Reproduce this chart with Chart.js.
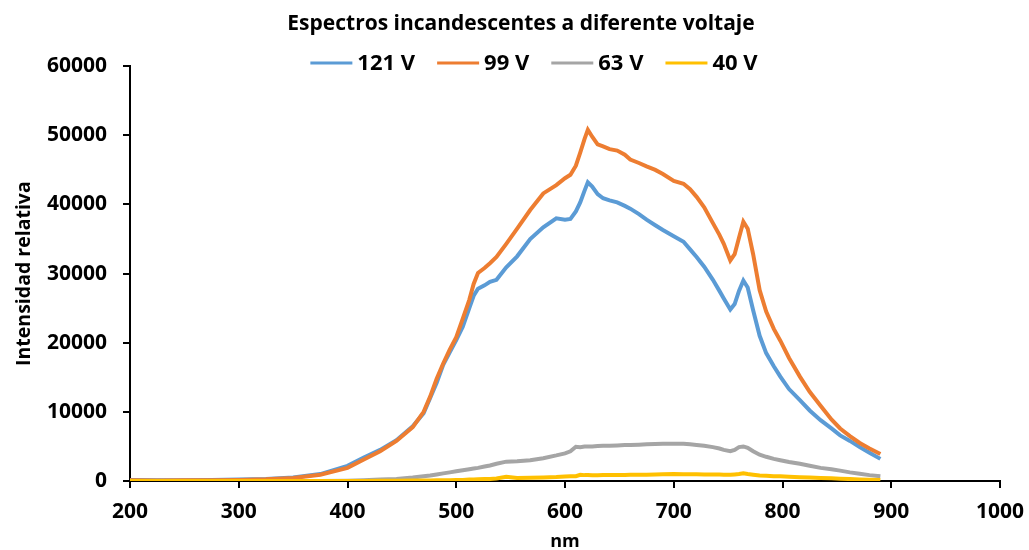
<!DOCTYPE html>
<html lang="es">
<head>
    <meta charset="UTF-8">
    <title>Espectros incandescentes a diferente voltaje</title>
    <script src="https://cdn.jsdelivr.net/npm/chart.js"></script>
    <style>
        html, body { margin: 0; padding: 0; background: #fff; }
        #wrap { width: 1029px; height: 550px; position: relative; }
    </style>
</head>
<body>
    <div id="wrap"><canvas id="chart"></canvas></div>

    <script>
        // Wavelengths (nm) shared by all series
        const wavelengths = [
            200, 225, 250, 275, 300, 325, 350, 375, 400, 415, 430, 445, 460, 470, 476, 482, 488, 494,
            500, 506, 512, 516, 520, 526, 531, 537, 546, 556, 568, 580, 592, 600, 605, 610, 614, 618,
            621, 625, 630, 635, 641, 648, 655, 660, 668, 675, 683, 690, 700, 709, 715, 721, 728, 736,
            742, 746, 752, 756, 760, 764, 768, 773, 779, 785, 792, 798, 806, 816, 825, 835, 845, 853,
            862, 871, 880, 890
        ];

        const seriesNames = ['121 V', '99 V', '63 V', '40 V'];
        const seriesColors = ['#5B9BD5', '#ED7D31', '#A5A5A5', '#FFC000'];

        const v121 = [
            150, 100, 120, 150, 200, 300, 500, 1000, 2200, 3400, 4500, 5900, 7900, 9800, 12000, 14200, 16800, 18600,
            20400, 22300, 25000, 26800, 27800, 28300, 28800, 29100, 30900, 32500, 35000, 36700, 38000, 37800, 37900, 39000, 40300, 42000,
            43200, 42600, 41500, 40900, 40600, 40300, 39800, 39400, 38600, 37800, 37000, 36300, 35400, 34600, 33500, 32400, 31000, 29100,
            27500, 26400, 24800, 25600, 27500, 29000, 28000, 24700, 21000, 18500, 16600, 15100, 13300, 11700, 10200, 8800, 7600, 6600,
            5800, 4900, 4100, 3200
        ];

        const v99 = [
            100, 80, 100, 120, 150, 250, 450, 900, 1900, 3100, 4300, 5800, 7800, 10000, 12200, 14800, 17000, 19000,
            20800, 23500, 26200, 28500, 30100, 30800, 31500, 32400, 34300, 36500, 39200, 41600, 42800, 43800, 44300, 45600, 47500, 49500,
            50800, 49800, 48700, 48400, 48000, 47800, 47200, 46500, 46000, 45500, 45000, 44400, 43400, 43000, 42200, 41100, 39600, 37300,
            35600, 34300, 31900, 32800, 35200, 37500, 36500, 32800, 27600, 24500, 22000, 20300, 17800, 15100, 12900, 10900, 8900, 7600,
            6500, 5500, 4700, 3900
        ];

        const v63 = [
            0, 0, 0, 0, 0, 0, 0, 0, 50, 100, 200, 300, 500, 700, 800, 950, 1100, 1250,
            1400, 1550, 1700, 1800, 1900, 2100, 2250, 2500, 2800, 2850, 3000, 3300, 3700, 4000, 4300, 4950, 4900, 5000,
            5000, 5000, 5050, 5100, 5100, 5150, 5200, 5200, 5250, 5300, 5350, 5400, 5400, 5400, 5300, 5200, 5100, 4900,
            4700, 4500, 4300, 4500, 4900, 5000, 4800, 4300, 3800, 3500, 3200, 3000, 2750, 2500, 2200, 1900, 1700, 1500,
            1250, 1050, 850, 700
        ];

        const v40 = [
            0, 0, 0, 0, 0, 0, 0, 0, 0, 0, 20, 40, 60, 80, 90, 100, 110, 120,
            140, 160, 200, 220, 250, 280, 300, 350, 600, 450, 480, 520, 580, 650, 680, 700, 900, 850,
            850, 820, 830, 850, 860, 870, 880, 890, 900, 920, 940, 960, 1000, 980, 970, 960, 950, 940,
            930, 920, 900, 950, 1000, 1100, 1000, 900, 800, 750, 700, 680, 620, 560, 500, 430, 380, 330,
            280, 230, 180, 150
        ];

        const seriesValues = [v121, v99, v63, v40];

        const xTicks = { min: 200, max: 1000, step: 100 };
        const yTicks = { min: 0, max: 60000, step: 10000 };

        const FONT = '"Open Sans", sans-serif';

        // Excel-style legend sitting just above the plot area
        const topLegend = {
            id: 'topLegend',
            afterDraw(chart) {
                const ctx = chart.ctx;
                const lineLen = 42, gapText = 5, gapItem = 22;
                ctx.save();
                ctx.font = 'bold 22px ' + FONT;
                const items = chart.data.datasets.map(ds => ({
                    label: ds.label,
                    color: ds.borderColor,
                    w: ctx.measureText(ds.label).width
                }));
                const total = items.reduce((s, it) => s + lineLen + gapText + it.w, 0) + gapItem * (items.length - 1);
                let x = 534 - total / 2;
                const y = 63;
                ctx.textBaseline = 'middle';
                ctx.fillStyle = '#000';
                items.forEach(it => {
                    ctx.strokeStyle = it.color;
                    ctx.lineWidth = 3;
                    ctx.beginPath();
                    ctx.moveTo(x, y);
                    ctx.lineTo(x + lineLen, y);
                    ctx.stroke();
                    x += lineLen + gapText;
                    ctx.fillText(it.label, x, y + 1);
                    x += it.w + gapItem;
                });
                ctx.restore();
            }
        };

        const datasets = seriesNames.map((name, i) => ({
            label: name,
            data: wavelengths.map((nm, j) => ({ x: nm, y: seriesValues[i][j] })),
            borderColor: seriesColors[i],
            borderWidth: 4,
            pointRadius: 0,
            tension: 0,
            fill: false,
            order: seriesNames.length - i
        }));

        const plain = v => String(v);

        new Chart(document.getElementById('chart'), {
            type: 'line',
            data: { datasets: datasets },
            plugins: [topLegend],
            options: {
                responsive: true,
                maintainAspectRatio: false,
                animation: false,
                layout: { padding: { left: 13, right: 0, top: 0, bottom: 0 } },
                plugins: {
                    legend: { display: false },
                    tooltip: { enabled: false },
                    title: {
                        display: true,
                        text: 'Espectros incandescentes a diferente voltaje',
                        color: '#000',
                        font: { family: FONT, size: 21, weight: 'bold' },
                        padding: { top: 11, bottom: 30 }
                    }
                },
                scales: {
                    x: {
                        type: 'linear',
                        min: xTicks.min,
                        max: xTicks.max,
                        grid: { drawOnChartArea: false, color: '#000', lineWidth: 2, tickLength: 7 },
                        border: { color: '#000', width: 2 },
                        ticks: {
                            stepSize: xTicks.step,
                            color: '#000',
                            padding: 11,
                            maxRotation: 0,
                            callback: plain,
                            font: { family: FONT, size: 21, weight: 'bold' }
                        },
                        title: {
                            display: true,
                            text: 'nm',
                            color: '#000',
                            padding: { top: 0, bottom: 0 },
                            font: { family: FONT, size: 18, weight: 'bold', lineHeight: 0.85 }
                        },
                        afterFit(scale) {
                            scale.height = 69;
                            scale.paddingRight = 29;
                        }
                    },
                    y: {
                        min: yTicks.min,
                        max: yTicks.max,
                        grid: { drawOnChartArea: false, color: '#000', lineWidth: 2, tickLength: 7 },
                        border: { color: '#000', width: 2 },
                        ticks: {
                            stepSize: yTicks.step,
                            color: '#000',
                            padding: 16,
                            callback: plain,
                            font: { family: FONT, size: 21, weight: 'bold' }
                        },
                        title: {
                            display: true,
                            text: 'Intensidad relativa',
                            color: '#000',
                            padding: { top: 0, bottom: 4 },
                            font: { family: FONT, size: 19.5, weight: 'bold' }
                        },
                        afterFit(scale) { scale.width = 117; }
                    }
                }
            }
        });
    </script>
</body>
</html>
